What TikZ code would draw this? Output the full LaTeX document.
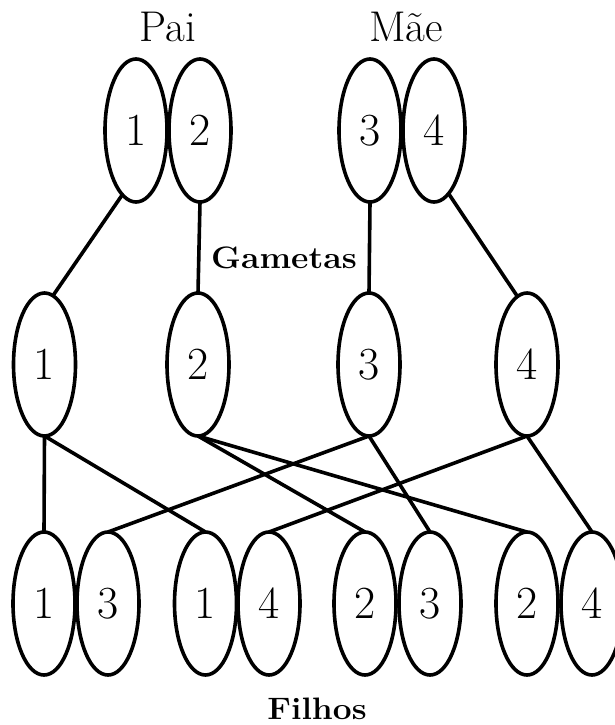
\documentclass[tikz,border=0pt]{standalone}
\usepackage{fontspec}
\usetikzlibrary{shapes.geometric}
\begin{document}
\begin{tikzpicture}[x=1pt,y=-1pt,
  chrom/.style={ellipse, draw, line width=3.6pt, minimum width=62pt, minimum height=143pt,
    inner sep=0pt, outer sep=0pt, font=\fontsize{46}{46}\selectfont},
  link/.style={line width=3.6pt},
  head/.style={anchor=base, font=\fontsize{43}{43}\selectfont},
  boldlabel/.style={anchor=base, font=\fontsize{31}{31}\selectfont\bfseries}]
\useasboundingbox (0,0) rectangle (615,725);
\clip (0,0) rectangle (615,725);
% parents
\node[chrom] (p1) at (136,130.5) {1};
\node[chrom] (p2) at (200,130.5) {2};
\node[chrom] (m3) at (370,130.5) {3};
\node[chrom] (m4) at (434,130.5) {4};
\node[head] (pai) at (168,42) {Pai};
\node[head] (mae) at (406,42) {Mãe};
% gametes
\node[chrom] (g1) at (44.5,364.5) {1};
\node[chrom] (g2) at (198,364.5) {2};
\node[chrom] (g3) at (369,364.5) {3};
\node[chrom] (g4) at (527,364.5) {4};
\node[boldlabel] (gam) at (284,268) {\scalebox{1.09}[1]{Gametas}};
% offspring
\node[chrom] (f1) at (44,603.5) {1};
\node[chrom] (f2) at (108,603.5) {3};
\node[chrom] (f3) at (205.5,603.5) {1};
\node[chrom] (f4) at (269,603.5) {4};
\node[chrom] (f5) at (365,603.5) {2};
\node[chrom] (f6) at (430,603.5) {3};
\node[chrom] (f7) at (527,603.5) {2};
\node[chrom] (f8) at (592,603.5) {4};
\node[boldlabel] (fil) at (317,719) {\scalebox{1.08}[1]{Filhos}};
% connectors parents -> gametes
\draw[link] (p1.-102) -- (g1.83);
\draw[link] (p2.south) -- (g2.north);
\draw[link] (m3.south) -- (g3.north);
\draw[link] (m4.-77) -- (g4.98);
% connectors gametes -> offspring
\draw[link] (g1.south) -- (f1.north);
\draw[link] (g1.south) -- (f3.north);
\draw[link] (g2.south) -- (f5.north);
\draw[link] (g2.south) -- (f7.north);
\draw[link] (g3.south) -- (f2.north);
\draw[link] (g3.south) -- (f6.north);
\draw[link] (g4.south) -- (f4.north);
\draw[link] (g4.south) -- (f8.north);
\end{tikzpicture}
\end{document}
